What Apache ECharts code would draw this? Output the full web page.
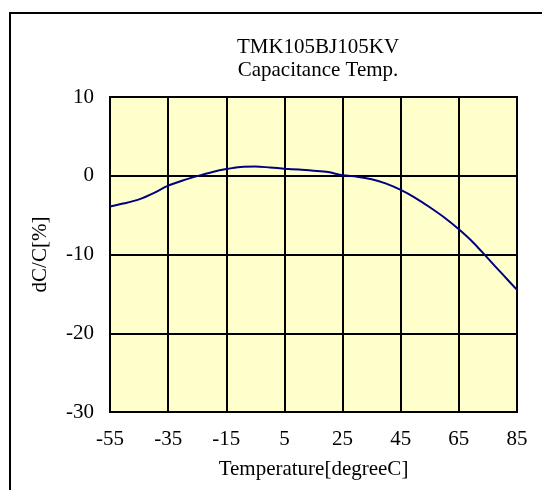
<!DOCTYPE html>
<html>
<head>
<meta charset="utf-8">
<script src="https://cdn.jsdelivr.net/npm/echarts@6/dist/echarts.min.js"></script>
<style>
  html, body { margin: 0; padding: 0; background: #fff; }
  #chart { width: 542px; height: 490px; }
</style>
</head>
<body>
<div id="chart"></div>
<script>
// 温度特性数据
var temps = [-55, -50, -45, -40, -35, -30, -25, -20, -15, -10, -5, 0, 5, 10, 15, 20, 25, 30, 35, 40, 45, 50, 55, 60, 65, 70, 75, 80, 85];
var dcc = [-3.9, -3.5, -3.0, -2.2, -1.25, -0.6, -0.05, 0.45, 0.85, 1.12, 1.18, 1.05, 0.9, 0.78, 0.65, 0.48, 0.05, -0.12, -0.45, -1.0, -1.8, -2.8, -4.0, -5.3, -6.8, -8.5, -10.5, -12.5, -14.5];
var titleLines = ["TMK105BJ105KV", "Capacitance Temp."];

(function () {
  var myChart = echarts.init(document.getElementById("chart"));
  var font = "'Liberation Serif', 'Times New Roman', serif";

  var option = {
    backgroundColor: "#ffffff",
    animation: false,
    title: {
      text: titleLines.join("\n"),
      left: 313,
      top: 31,
      textAlign: "center",
      textStyle: {
        fontFamily: font,
        fontSize: 21,
        fontWeight: "normal",
        color: "#000",
        lineHeight: 23,
      },
    },
    graphic: [
      {
        // 外框
        type: "rect",
        shape: { x: 10, y: 13, width: 600, height: 600 },
        style: { fill: "none", stroke: "#000", lineWidth: 2 },
        silent: true,
      },
    ],
    grid: {
      left: 110,
      right: 25,
      top: 97,
      bottom: 78,
      show: true,
      backgroundColor: "#FFFFCC",
      borderColor: "#000",
      borderWidth: 2,
    },
    xAxis: {
      type: "value",
      min: -55,
      max: 85,
      interval: 20,
      name: "Temperature[degreeC]",
      nameLocation: "middle",
      nameGap: 47,
      nameTextStyle: { fontFamily: font, fontSize: 21, color: "#000" },
      axisLine: { show: false },
      axisTick: { show: false },
      axisLabel: { fontFamily: font, fontSize: 21, color: "#000", margin: 17 },
      splitLine: { lineStyle: { color: "#000", width: 2 } },
    },
    yAxis: {
      type: "value",
      min: -30,
      max: 10,
      interval: 10,
      name: "dC/C[%]",
      nameLocation: "middle",
      nameGap: 59,
      nameTextStyle: { fontFamily: font, fontSize: 21, color: "#000" },
      axisLine: { show: false },
      axisTick: { show: false },
      axisLabel: { fontFamily: font, fontSize: 21, color: "#000", margin: 16 },
      splitLine: { lineStyle: { color: "#000", width: 2 } },
    },
    series: [
      {
        type: "line",
        data: temps.map(function (t, i) { return [t, dcc[i]]; }),
        smooth: 0.3,
        showSymbol: false,
        lineStyle: { color: "#000080", width: 2 },
      },
    ],
  };

  myChart.setOption(option);
  window.addEventListener("resize", function () {
    myChart.resize();
  });
})();
</script>
</body>
</html>
